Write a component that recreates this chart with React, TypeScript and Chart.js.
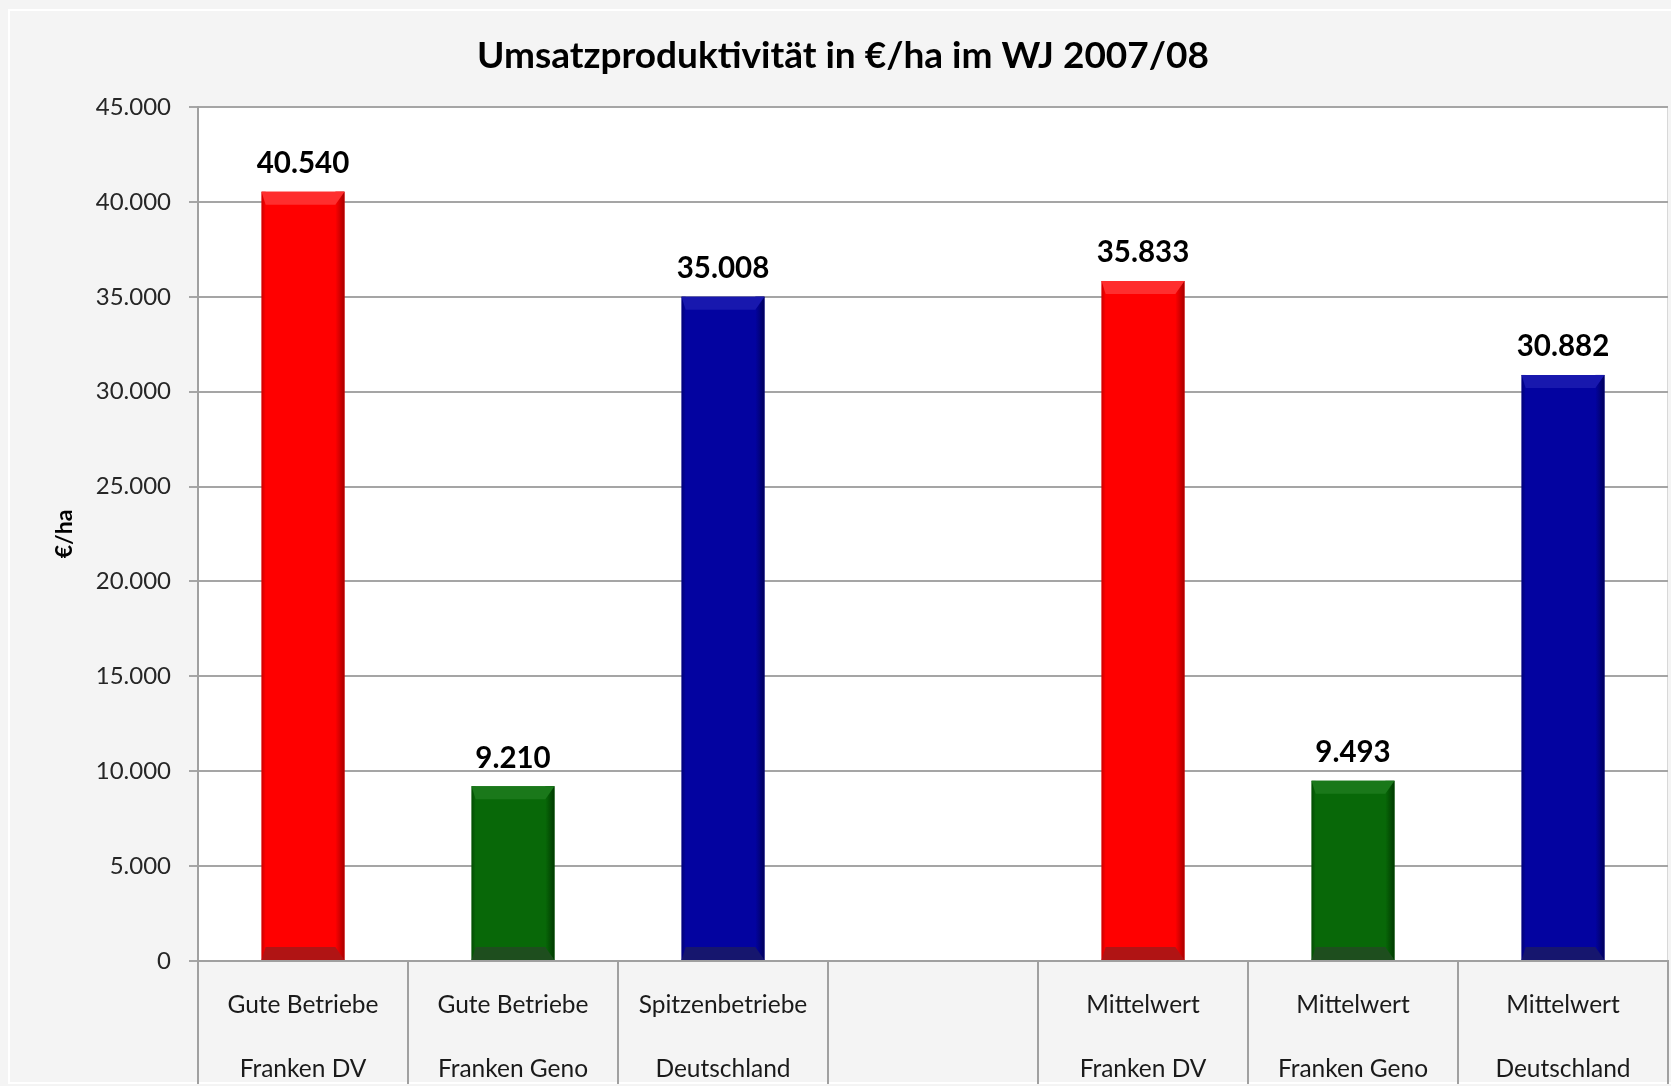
import React, { useEffect, useRef } from 'react';
import { Chart, registerables } from 'chart.js';

Chart.register(...registerables);

const titleText = 'Umsatzproduktivität in €/ha im WJ 2007/08';
const yAxisTitle = '€/ha';
const categoryLine1 = ['Gute Betriebe', 'Gute Betriebe', 'Spitzenbetriebe', '', 'Mittelwert', 'Mittelwert', 'Mittelwert'];
const categoryLine2 = ['Franken DV', 'Franken Geno', 'Deutschland', '', 'Franken DV', 'Franken Geno', 'Deutschland'];
const values: (number | null)[] = [40540, 9210, 35008, null, 35833, 9493, 30882];
const barColors = ['#ff0000', '#086808', '#0303a0', '#ffffff', '#ff0000', '#086808', '#0303a0'];
const edgeDark = ['#a80000', '#003a00', '#00005c', '#ffffff', '#a80000', '#003a00', '#00005c'];
const edgeLight = ['#ff2e2e', '#1a781a', '#1818ae', '#ffffff', '#ff2e2e', '#1a781a', '#1818ae'];
const bottomShade = ['#b01414', '#1e4e1e', '#16166e', '#ffffff', '#b01414', '#1e4e1e', '#16166e'];
const yMin = 0;
const yMax = 45000;
const yStep = 5000;

const formatDE = (v: number) => String(Math.round(v)).replace(/\B(?=(\d{3})+(?!\d))/g, '.');

const FONT = 'Lato, "Open Sans", "Liberation Sans", sans-serif';

const backgroundPlugin = {
  id: 'bgFrame',
  beforeDraw(chart: any) {
    const { ctx, width, height, chartArea } = chart;
    ctx.save();
    ctx.fillStyle = '#f4f4f4';
    ctx.fillRect(0, 0, width, height);
    ctx.strokeStyle = '#ffffff';
    ctx.lineWidth = 2;
    ctx.strokeRect(9, 10, width + 10, height - 13);
    ctx.fillStyle = '#ffffff';
    ctx.fillRect(chartArea.left, chartArea.top, chartArea.right - chartArea.left, chartArea.bottom - chartArea.top);
    ctx.strokeStyle = '#d8d8d8';
    ctx.lineWidth = 1;
    ctx.beginPath();
    ctx.moveTo(chartArea.right - 0.5, chartArea.top);
    ctx.lineTo(chartArea.right - 0.5, chartArea.bottom);
    ctx.stroke();
    ctx.restore();
  },
};

const bevelPlugin = {
  id: 'bevelLabels',
  afterDatasetsDraw(chart: any) {
    const { ctx } = chart;
    const meta = chart.getDatasetMeta(0);
    ctx.save();
    meta.data.forEach((el: any, i: number) => {
      const v = values[i];
      if (v == null) return;
      const { x, y, base, width } = el.getProps(['x', 'y', 'base', 'width'], true);
      const left = x - width / 2;
      const right = x + width / 2;
      const top = Math.min(y, base);
      const bottom = Math.max(y, base);
      const rw = width * 0.11;
      const lw = width * 0.05;
      const bh = 13;
      const gR = ctx.createLinearGradient(right - rw, 0, right, 0);
      gR.addColorStop(0, barColors[i]);
      gR.addColorStop(1, edgeDark[i]);
      ctx.fillStyle = gR;
      ctx.fillRect(right - rw, top, rw, bottom - top);
      const gL = ctx.createLinearGradient(left, 0, left + lw, 0);
      gL.addColorStop(0, edgeDark[i]);
      gL.addColorStop(1, barColors[i]);
      ctx.globalAlpha = 0.6;
      ctx.fillStyle = gL;
      ctx.fillRect(left, top, lw, bottom - top);
      ctx.globalAlpha = 1;
      ctx.fillStyle = edgeLight[i];
      ctx.beginPath();
      ctx.moveTo(left, top);
      ctx.lineTo(right, top);
      ctx.lineTo(right - rw, top + bh);
      ctx.lineTo(left + lw, top + bh);
      ctx.closePath();
      ctx.fill();
      ctx.fillStyle = bottomShade[i];
      ctx.beginPath();
      ctx.moveTo(left, bottom);
      ctx.lineTo(right, bottom);
      ctx.lineTo(right - rw, bottom - bh);
      ctx.lineTo(left + lw, bottom - bh);
      ctx.closePath();
      ctx.fill();
      ctx.fillStyle = '#000000';
      ctx.font = `bold 29.5px ${FONT}`;
      ctx.textAlign = 'center';
      ctx.textBaseline = 'middle';
      ctx.fillText(formatDE(v), x, top - 28);
    });
    ctx.restore();
  },
};

export default function App() {
  const canvasRef = useRef<HTMLCanvasElement | null>(null);

  useEffect(() => {
    const canvas = canvasRef.current;
    if (!canvas) return;
    const labels = categoryLine1.map((l, i) => [l, categoryLine2[i]]);
    const chart = new Chart(canvas, {
      type: 'bar',
      data: {
        labels,
        datasets: [
          {
            data: values,
            backgroundColor: barColors,
            borderWidth: 0,
            categoryPercentage: 1,
            barPercentage: 0.395,
          },
        ],
      },
      options: {
        animation: false,
        responsive: true,
        maintainAspectRatio: false,
        layout: { padding: { top: 12, left: 18, right: 3, bottom: 0 } },
        plugins: {
          legend: { display: false },
          tooltip: { enabled: false },
          title: {
            display: true,
            text: titleText,
            color: '#000000',
            font: { family: FONT, size: 37, weight: 'bold' },
            padding: { top: 22, bottom: 28.6 },
          },
        },
        scales: {
          x: {
            offset: true,
            afterFit: (scale: any) => {
              scale.height = 125;
            },
            grid: {
              display: true,
              offset: true,
              drawOnChartArea: false,
              drawTicks: true,
              tickLength: 123,
              color: '#a0a0a0',
              lineWidth: 2,
            },
            border: { display: true, color: '#a0a0a0', width: 2 },
            ticks: {
              autoSkip: false,
              maxRotation: 0,
              minRotation: 0,
              padding: -111,
              color: '#1a1a1a',
              font: { family: FONT, size: 24.5, lineHeight: 64 / 24.5 },
            },
          },
          y: {
            min: yMin,
            max: yMax,
            afterFit: (scale: any) => {
              scale.width = 180;
            },
            grid: {
              color: '#a5a5a5',
              lineWidth: 2,
              tickLength: 9,
              drawTicks: true,
            },
            border: { display: true, color: '#a0a0a0', width: 2 },
            ticks: {
              stepSize: yStep,
              padding: 18,
              color: '#262626',
              font: { family: FONT, size: 24 },
              callback: (v: any) => formatDE(Number(v)),
            },
            title: {
              display: true,
              text: yAxisTitle,
              color: '#000000',
              font: { family: FONT, size: 23, weight: 'bold' },
              padding: { top: 33, bottom: 0 },
            },
          },
        },
      },
      plugins: [backgroundPlugin, bevelPlugin],
    } as any);
    return () => chart.destroy();
  }, []);

  return (
    <div style={{ position: 'fixed', left: 0, top: 0, width: 1671, height: 1086 }}>
      <canvas ref={canvasRef} />
    </div>
  );
}
